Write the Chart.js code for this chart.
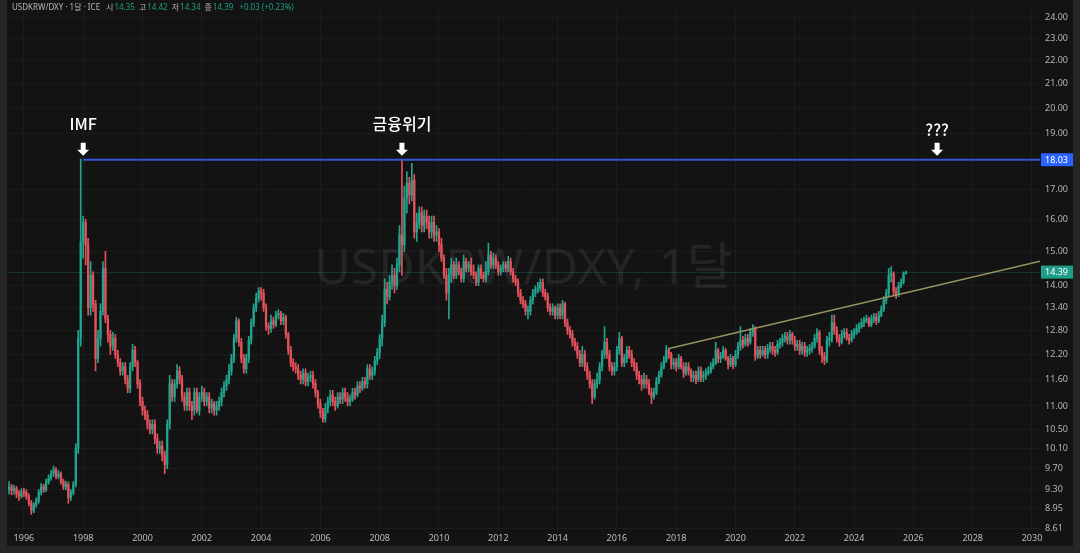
<!DOCTYPE html>
<html lang="ko">
<head>
<meta charset="utf-8">
<title>USDKRW/DXY, 1달</title>
<script src="https://cdn.jsdelivr.net/npm/chart.js@4.4.1/dist/chart.umd.min.js"></script>
<style>
  html, body { margin: 0; padding: 0; background: #262626; }
  #chart { display: block; }
</style>
</head>
<body>
<canvas id="chart" width="1080" height="553"></canvas>
<script>
// monthly candles, first bar is Jul 1995, last bar Oct 2025
const startYear = 1995;
const startMonth = 6;
const firstOpen = 9.30;

const closes = [
  9.35, 9.28, 9.32, 9.22, 9.18, 9.26, // 1995 (Jul-Dec)
  9.25, 9.18, 9.05, 8.92, 9.02, 9.10, 9.25, 9.35, 9.30, 9.45, 9.52, 9.60, // 1996
  9.68, 9.55, 9.60, 9.45, 9.35, 9.40, 9.15, 9.25, 9.40, 10.10, 12.60, 15.30, // 1997
  15.90, 15.20, 13.40, 14.30, 13.50, 12.10, 12.60, 13.30, 14.50, 13.10, 12.70, 12.40, // 1998
  12.60, 12.20, 12.00, 11.80, 11.90, 11.60, 11.40, 11.90, 12.30, 12.00, 11.50, 11.10, // 1999
  10.90, 10.80, 10.60, 10.50, 10.60, 10.30, 10.10, 10.15, 9.95, 9.78, 10.60, 11.50, // 2000
  11.20, 11.50, 11.80, 11.60, 11.20, 11.00, 11.30, 11.00, 10.90, 11.30, 10.90, 11.20, // 2001
  11.30, 11.10, 11.20, 10.95, 11.05, 10.90, 11.00, 11.10, 11.30, 11.45, 11.60, 11.80, // 2002
  12.10, 12.60, 13.05, 12.50, 12.10, 11.85, 12.10, 12.55, 13.00, 13.40, 13.65, 13.85, // 2003
  13.80, 13.40, 12.90, 12.85, 13.05, 12.95, 13.20, 13.25, 13.05, 13.15, 12.70, 12.30, // 2004
  12.00, 11.90, 11.85, 11.70, 11.60, 11.75, 11.55, 11.65, 11.70, 11.50, 11.30, 11.05, // 2005
  10.85, 10.72, 10.95, 11.10, 11.25, 11.10, 11.00, 11.20, 11.15, 11.30, 11.20, 11.10, // 2006
  11.15, 11.30, 11.25, 11.45, 11.40, 11.55, 11.50, 11.85, 11.70, 11.80, 12.05, 12.25, // 2007
  12.60, 13.00, 13.90, 13.70, 14.10, 14.30, 14.00, 14.60, 15.50, 15.20, 16.70, 17.20, // 2008
  16.80, 17.30, 15.60, 15.90, 16.20, 15.80, 16.10, 15.90, 15.60, 15.90, 15.50, 15.60, // 2009
  15.20, 14.80, 14.30, 13.80, 14.30, 14.60, 14.30, 14.60, 14.40, 14.20, 14.70, 14.50, // 2010
  14.60, 14.40, 14.30, 14.10, 14.50, 14.30, 14.20, 14.40, 14.90, 14.60, 14.80, 14.60, // 2011
  14.40, 14.50, 14.60, 14.50, 14.70, 14.40, 14.20, 14.10, 13.80, 13.60, 13.50, 13.30, // 2012
  13.30, 13.60, 13.80, 13.90, 13.95, 14.10, 13.80, 13.70, 13.40, 13.30, 13.40, 13.20, // 2013
  13.40, 13.20, 13.50, 13.00, 12.80, 12.70, 12.50, 12.40, 12.20, 12.00, 12.20, 11.90, // 2014
  11.70, 11.50, 11.20, 11.50, 11.60, 11.90, 12.20, 12.50, 12.20, 11.90, 11.80, 11.90, // 2015
  12.30, 12.60, 12.00, 12.10, 12.30, 12.20, 12.00, 11.90, 11.70, 11.60, 11.50, 11.60, // 2016
  11.50, 11.30, 11.20, 11.30, 11.55, 11.70, 11.90, 12.05, 12.30, 12.20, 11.95, 12.00, // 2017
  11.90, 12.10, 11.90, 11.75, 11.90, 11.80, 11.65, 11.70, 11.60, 11.80, 11.65, 11.70, // 2018
  11.75, 11.80, 11.90, 12.00, 12.30, 12.10, 12.15, 12.30, 12.10, 11.95, 12.10, 11.95, // 2019
  12.20, 12.40, 12.55, 12.45, 12.60, 12.50, 12.75, 12.85, 12.15, 12.30, 12.20, 12.30, // 2020
  12.20, 12.35, 12.40, 12.30, 12.25, 12.45, 12.50, 12.60, 12.65, 12.55, 12.70, 12.55, // 2021
  12.40, 12.45, 12.30, 12.40, 12.25, 12.30, 12.35, 12.40, 12.60, 12.75, 12.30, 12.15, // 2022
  12.05, 12.55, 12.60, 13.00, 12.80, 12.60, 12.50, 12.70, 12.75, 12.60, 12.55, 12.70, // 2023
  12.75, 12.85, 12.90, 13.00, 13.05, 13.10, 12.95, 13.10, 13.15, 13.05, 13.20, 13.35, // 2024
  13.60, 13.80, 14.30, 14.35, 13.85, 13.75, 14.00, 14.10, 14.35, 14.39 // 2025 (Jan-Oct)
];

const highs = [
  9.45, 9.40, 9.38, 9.36, 9.28, 9.32,
  9.33, 9.30, 9.22, 9.10, 9.06, 9.15, 9.30, 9.42, 9.40, 9.50, 9.58, 9.66,
  9.75, 9.72, 9.66, 9.64, 9.50, 9.46, 9.44, 9.30, 9.45, 10.20, 12.80, 18.05,
  16.10, 16.00, 15.40, 14.70, 14.40, 13.60, 12.80, 13.50, 14.70, 15.00, 13.20, 12.80,
  12.75, 12.70, 12.30, 12.10, 12.00, 12.00, 11.70, 12.00, 12.45, 12.40, 12.05, 11.60,
  11.20, 11.00, 10.90, 10.70, 10.70, 10.70, 10.40, 10.25, 10.25, 10.05, 10.70, 11.70,
  11.60, 11.60, 11.95, 11.90, 11.70, 11.30, 11.40, 11.40, 11.10, 11.40, 11.40, 11.30,
  11.45, 11.40, 11.30, 11.30, 11.15, 11.10, 11.10, 11.20, 11.40, 11.55, 11.70, 11.95,
  12.20, 12.70, 13.15, 13.10, 12.60, 12.20, 12.20, 12.65, 13.10, 13.50, 13.80, 13.95,
  13.95, 13.90, 13.50, 13.00, 13.20, 13.15, 13.30, 13.35, 13.30, 13.25, 13.20, 12.75,
  12.40, 12.10, 12.00, 11.95, 11.80, 11.85, 11.85, 11.75, 11.80, 11.80, 11.60, 11.35,
  11.15, 10.95, 11.05, 11.20, 11.35, 11.35, 11.20, 11.30, 11.30, 11.40, 11.40, 11.30,
  11.25, 11.40, 11.40, 11.55, 11.55, 11.65, 11.65, 11.95, 11.95, 11.90, 12.15, 12.35,
  12.70, 13.20, 14.20, 14.10, 14.30, 14.60, 14.50, 14.80, 15.80, 18.03, 17.10, 17.60,
  17.40, 17.90, 17.50, 16.20, 16.40, 16.40, 16.30, 16.30, 16.10, 16.10, 16.10, 15.80,
  15.70, 15.40, 14.90, 14.50, 14.50, 14.80, 14.70, 14.80, 14.70, 14.50, 14.90, 14.80,
  14.70, 14.80, 14.60, 14.40, 14.60, 14.60, 14.40, 14.70, 15.25, 15.00, 14.95, 14.90,
  14.70, 14.60, 14.70, 14.70, 14.85, 14.80, 14.50, 14.30, 14.20, 13.90, 13.70, 13.60,
  13.45, 13.70, 13.90, 14.00, 14.10, 14.20, 14.20, 13.90, 13.80, 13.50, 13.50, 13.45,
  13.50, 13.50, 13.60, 13.55, 13.10, 12.90, 12.80, 12.60, 12.50, 12.30, 12.40, 12.30,
  12.00, 11.80, 11.60, 11.60, 11.75, 12.00, 12.30, 12.90, 12.60, 12.30, 12.00, 12.00,
  12.40, 12.75, 12.65, 12.20, 12.40, 12.40, 12.30, 12.10, 12.00, 11.80, 11.70, 11.75,
  11.70, 11.60, 11.40, 11.40, 11.65, 11.80, 12.00, 12.15, 12.42, 12.35, 12.25, 12.10,
  12.10, 12.20, 12.15, 12.00, 12.00, 12.00, 11.85, 11.80, 11.80, 11.90, 11.90, 11.80,
  11.85, 11.90, 12.00, 12.10, 12.50, 12.35, 12.25, 12.40, 12.35, 12.15, 12.20, 12.15,
  12.30, 12.50, 12.90, 12.65, 12.70, 12.70, 12.85, 12.95, 12.90, 12.40, 12.40, 12.40,
  12.40, 12.45, 12.50, 12.50, 12.40, 12.55, 12.60, 12.70, 12.75, 12.75, 12.80, 12.75,
  12.65, 12.55, 12.55, 12.50, 12.50, 12.40, 12.45, 12.50, 12.70, 12.85, 12.80, 12.40,
  12.25, 12.65, 12.75, 13.20, 13.20, 12.90, 12.70, 12.80, 12.85, 12.85, 12.70, 12.80,
  12.85, 12.95, 13.00, 13.10, 13.15, 13.20, 13.15, 13.20, 13.25, 13.25, 13.30, 13.45,
  13.70, 13.90, 14.50, 14.55, 14.40, 13.95, 14.10, 14.20, 14.40, 14.42
];

const lows = [
  9.22, 9.20, 9.21, 9.15, 9.10, 9.14,
  9.17, 9.12, 9.00, 8.85, 8.88, 8.98, 9.05, 9.20, 9.25, 9.26, 9.40, 9.48,
  9.55, 9.50, 9.50, 9.40, 9.30, 9.30, 9.05, 9.10, 9.20, 9.35, 10.00, 12.40,
  14.80, 14.60, 13.20, 13.20, 13.30, 11.80, 12.00, 12.40, 13.20, 13.00, 12.50, 12.20,
  12.30, 12.10, 11.90, 11.70, 11.70, 11.50, 11.30, 11.30, 11.80, 11.90, 11.40, 11.00,
  10.80, 10.70, 10.50, 10.40, 10.40, 10.20, 10.00, 10.00, 9.85, 9.60, 9.70, 10.50,
  11.10, 11.10, 11.40, 11.50, 11.10, 10.90, 10.90, 10.90, 10.70, 10.80, 10.85, 10.80,
  11.10, 11.00, 11.00, 10.85, 10.85, 10.80, 10.80, 10.90, 11.00, 11.20, 11.35, 11.50,
  11.70, 12.00, 12.50, 12.40, 12.00, 11.75, 11.75, 12.00, 12.45, 12.90, 13.30, 13.55,
  13.60, 13.30, 12.80, 12.70, 12.75, 12.85, 12.90, 13.10, 12.95, 12.95, 12.60, 12.20,
  11.90, 11.80, 11.75, 11.60, 11.50, 11.50, 11.45, 11.45, 11.55, 11.40, 11.20, 10.95,
  10.75, 10.65, 10.65, 10.85, 11.00, 11.00, 10.90, 10.95, 11.05, 11.05, 11.10, 11.00,
  11.00, 11.10, 11.15, 11.20, 11.30, 11.35, 11.40, 11.40, 11.60, 11.60, 11.70, 11.95,
  12.10, 12.40, 12.90, 13.50, 13.60, 13.90, 13.80, 13.90, 14.40, 14.30, 15.00, 16.20,
  16.50, 16.60, 15.40, 15.30, 15.70, 15.60, 15.60, 15.70, 15.40, 15.40, 15.30, 15.30,
  15.00, 14.70, 14.20, 13.60, 13.10, 14.10, 14.20, 14.20, 14.30, 14.10, 14.10, 14.40,
  14.40, 14.30, 14.20, 14.00, 14.00, 14.20, 14.10, 14.10, 14.30, 14.50, 14.50, 14.50,
  14.30, 14.30, 14.40, 14.40, 14.40, 14.30, 14.10, 14.00, 13.70, 13.50, 13.40, 13.20,
  13.10, 13.20, 13.50, 13.70, 13.80, 13.85, 13.70, 13.60, 13.30, 13.20, 13.20, 13.10,
  13.10, 13.10, 13.10, 12.90, 12.70, 12.60, 12.40, 12.30, 12.10, 11.90, 11.90, 11.80,
  11.60, 11.40, 11.05, 11.15, 11.40, 11.50, 11.80, 12.10, 12.10, 11.80, 11.70, 11.70,
  11.80, 12.20, 11.90, 11.90, 12.00, 12.10, 11.90, 11.80, 11.60, 11.50, 11.35, 11.40,
  11.40, 11.25, 11.05, 11.15, 11.25, 11.50, 11.65, 11.85, 12.00, 12.10, 11.85, 11.85,
  11.80, 11.85, 11.85, 11.65, 11.70, 11.70, 11.55, 11.55, 11.50, 11.55, 11.55, 11.55,
  11.60, 11.70, 11.75, 11.85, 11.95, 12.00, 12.00, 12.10, 12.05, 11.85, 11.90, 11.85,
  11.90, 12.10, 12.30, 12.35, 12.40, 12.40, 12.45, 12.65, 12.05, 12.10, 12.10, 12.15,
  12.10, 12.10, 12.25, 12.20, 12.15, 12.20, 12.35, 12.40, 12.50, 12.45, 12.45, 12.45,
  12.30, 12.30, 12.20, 12.20, 12.15, 12.15, 12.20, 12.25, 12.35, 12.50, 12.20, 12.00,
  11.95, 12.00, 12.40, 12.50, 12.70, 12.50, 12.40, 12.45, 12.60, 12.55, 12.45, 12.50,
  12.60, 12.70, 12.75, 12.85, 12.90, 13.00, 12.90, 12.90, 13.00, 12.95, 13.00, 13.15,
  13.30, 13.50, 13.70, 14.10, 13.75, 13.65, 13.70, 13.95, 14.05, 14.34
];

// price axis ticks (log scale) and year ticks
const yTicks = [8.61, 8.95, 9.30, 9.70, 10.10, 10.50, 11.00, 11.60, 12.20, 12.80, 13.40,
  14.00, 15.00, 16.00, 17.00, 19.00, 20.00, 21.00, 22.00, 23.00, 24.00];
const xTicks = [1996, 1998, 2000, 2002, 2004, 2006, 2008, 2010, 2012, 2014, 2016,
  2018, 2020, 2022, 2024, 2026, 2028, 2030];

// drawings on the chart
const levelPrice = 18.03;
const levelFrom = 1998.0;
const lastPrice = 14.39;
const trendFrom = { x: 2017.72, y: 12.34 };
const trendTo = { x: 2030.27, y: 14.71 };
const notes = [
  { text: "IMF", x: 1998.0, y: 18.03 },
  { text: "금융위기", x: 2008 + 9 / 12, y: 18.03 },
  { text: "???", x: 2026.8, y: 18.03 }
];
const headerTitle = "USDKRW/DXY · 1달 · ICE";
const headerValues = [["시", "14.35"], ["고", "14.42"], ["저", "14.34"], ["종", "14.39"]];
const headerChange = "+0.03 (+0.23%)";

const GREEN = "#22a48f";
const RED = "#e5525c";
const BG = "#131313";
const FONT = '"Noto Sans", "Noto Sans CJK KR", sans-serif';

const xs = closes.map((c, i) => startYear + (startMonth + i) / 12);
const opens = closes.map((c, i) => (i === 0 ? firstOpen : closes[i - 1]));
const colors = closes.map((c, i) => (c >= opens[i] ? GREEN : RED));

const bgPlugin = {
  id: "bg",
  beforeDraw(chart) {
    const { ctx, width, height } = chart;
    ctx.save();
    ctx.fillStyle = "#262626";
    ctx.fillRect(0, 0, width, height);
    ctx.fillStyle = BG;
    ctx.fillRect(7, 0, width - 14, height - 7);
    ctx.restore();
  },
  beforeDatasetsDraw(chart) {
    const { ctx, chartArea: a } = chart;
    ctx.save();
    // watermark
    ctx.fillStyle = "rgba(255,255,255,0.075)";
    ctx.font = '50px "Noto Sans", "Noto Sans CJK KR", sans-serif';
    ctx.textAlign = "center";
    ctx.textBaseline = "middle";
    ctx.fillText("USDKRW/DXY, 1달", (a.left + a.right) / 2, (a.top + a.bottom) / 2);
    // last price line
    const y = Math.round(chart.scales.y.getPixelForValue(lastPrice)) + 0.5;
    ctx.strokeStyle = "rgba(38,166,154,0.22)";
    ctx.lineWidth = 1;
    ctx.beginPath();
    ctx.moveTo(a.left, y);
    ctx.lineTo(a.right, y);
    ctx.stroke();
    ctx.restore();
  }
};

function downArrow(ctx, x, tip) {
  ctx.beginPath();
  ctx.moveTo(x, tip);
  ctx.lineTo(x - 6, tip - 6);
  ctx.lineTo(x - 2.5, tip - 6);
  ctx.lineTo(x - 2.5, tip - 13);
  ctx.lineTo(x + 2.5, tip - 13);
  ctx.lineTo(x + 2.5, tip - 6);
  ctx.lineTo(x + 6, tip - 6);
  ctx.closePath();
  ctx.fill();
}

const notesPlugin = {
  id: "notes",
  afterDatasetsDraw(chart) {
    const { ctx } = chart;
    const sx = chart.scales.x, sy = chart.scales.y;
    ctx.save();
    ctx.fillStyle = "#ffffff";
    ctx.textAlign = "center";
    ctx.textBaseline = "middle";
    ctx.font = '500 16px "Noto Sans CJK KR", "Noto Sans", sans-serif';
    notes.forEach((n, i) => {
      const x = sx.getPixelForValue(n.x);
      const tip = sy.getPixelForValue(n.y) - 4;
      downArrow(ctx, x, tip);
      // the "???" label sits a little lower in the original
      ctx.fillText(n.text, x, tip - (i === 2 ? 26 : 32));
    });

    // header line
    ctx.font = '8px "Noto Sans", "Noto Sans CJK KR", sans-serif';
    ctx.textAlign = "left";
    let x = 12;
    ctx.fillStyle = "#b8b8b8";
    ctx.fillText(headerTitle, x, 8);
    x += ctx.measureText(headerTitle).width + 6;
    headerValues.forEach(([k, v]) => {
      ctx.fillStyle = "#b8b8b8";
      ctx.fillText(k, x, 8);
      x += ctx.measureText(k).width + 1;
      ctx.fillStyle = "#1f9e89";
      ctx.fillText(v, x, 8);
      x += ctx.measureText(v).width + 4;
    });
    ctx.fillStyle = "#1f9e89";
    ctx.fillText(headerChange, x + 2, 8);
    ctx.restore();
  },
  afterDraw(chart) {
    const { ctx, chartArea: a } = chart;
    const sy = chart.scales.y;
    ctx.save();
    ctx.font = '9px "Noto Sans", sans-serif';
    ctx.textAlign = "left";
    ctx.textBaseline = "middle";
    [[levelPrice, "#2962ff"], [lastPrice, "#1f9e89"]].forEach(([p, col]) => {
      const y = sy.getPixelForValue(p);
      ctx.fillStyle = col;
      ctx.fillRect(a.right + 1, y - 6.5, 32, 13);
      ctx.fillStyle = "#ffffff";
      ctx.fillText(p.toFixed(2), a.right + 5, y + 0.5);
    });
    ctx.restore();
  }
};

new Chart(document.getElementById("chart"), {
  type: "bar",
  data: {
    datasets: [
      {
        label: "wick",
        data: xs.map((x, i) => ({ x, y: [lows[i], highs[i]] })),
        backgroundColor: colors,
        barThickness: 1,
        grouped: false,
        order: 3
      },
      {
        label: "body",
        data: xs.map((x, i) => ({ x, y: [opens[i], closes[i]] })),
        backgroundColor: colors,
        barThickness: 1.6,
        minBarLength: 1,
        grouped: false,
        order: 2
      },
      {
        type: "line",
        label: "level",
        data: [{ x: levelFrom, y: levelPrice }, { x: 2030.27, y: levelPrice }],
        borderColor: "#3656d6",
        borderWidth: 2,
        pointRadius: 0,
        order: 1
      },
      {
        type: "line",
        label: "trend",
        data: [trendFrom, trendTo],
        borderColor: "#969261",
        borderWidth: 1.5,
        pointRadius: 0,
        order: 1
      }
    ]
  },
  options: {
    responsive: false,
    animation: false,
    devicePixelRatio: 1,
    layout: { padding: { left: 7, top: 0, right: 7, bottom: 7 } },
    plugins: { legend: { display: false }, tooltip: { enabled: false } },
    scales: {
      x: {
        type: "linear",
        min: 1995.43,
        max: 2030.27,
        offset: false,
        grid: { color: "#1c1c1c", offset: false, drawTicks: false },
        border: { display: false },
        afterBuildTicks(scale) { scale.ticks = xTicks.map(v => ({ value: v })); },
        afterFit(scale) { scale.height = 16; },
        ticks: {
          color: "#bdbdbd",
          font: { family: FONT, size: 9 },
          padding: 3,
          maxRotation: 0,
          autoSkip: false,
          callback: v => String(v)
        }
      },
      y: {
        type: "logarithmic",
        position: "right",
        min: 8.576,
        max: 24.33,
        grid: { color: "#1c1c1c", drawTicks: false },
        border: { display: false },
        afterBuildTicks(scale) { scale.ticks = yTicks.map(v => ({ value: v })); },
        afterFit(scale) { scale.width = 33; },
        ticks: {
          color: "#b5b5b5",
          font: { family: FONT, size: 9 },
          padding: 5,
          crossAlign: "near",
          autoSkip: false,
          callback: v => Number(v).toFixed(2)
        }
      }
    }
  },
  plugins: [bgPlugin, notesPlugin]
});
</script>
</body>
</html>
